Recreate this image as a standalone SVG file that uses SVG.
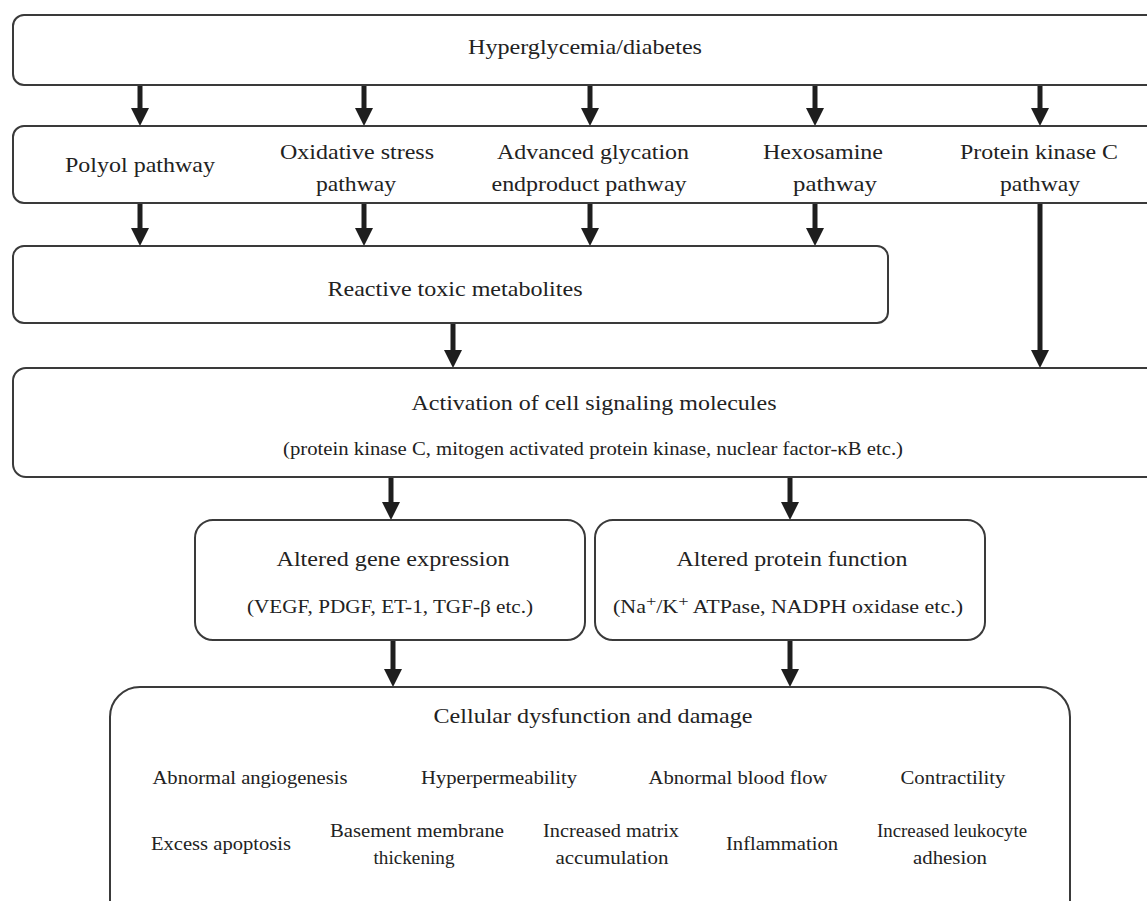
<svg xmlns="http://www.w3.org/2000/svg" width="1147" height="901" viewBox="0 0 1147 901">
<style>
.box{fill:#fff;stroke:#3a3a3a;stroke-width:2}
.t{font-family:"Liberation Serif","Times New Roman",serif;fill:#222;text-anchor:middle}
.l{font-size:22px}
.s{font-size:18px}
.m{font-size:19px}
.c{stroke:#1e1e1e;stroke-width:5;fill:none;marker-end:url(#ah)}
</style>
<defs>
<marker id="ah" markerUnits="userSpaceOnUse" markerWidth="18" markerHeight="18" refX="0" refY="9" orient="auto" viewBox="0 0 18 18">
<path d="M0,0 L18,9 L0,18 Z" fill="#1e1e1e"/>
</marker>
</defs>
<rect width="1147" height="901" fill="#fff"/>

<g id="connectors">
<line class="c" x1="140" y1="86" x2="140" y2="108"/>
<line class="c" x1="364" y1="86" x2="364" y2="108"/>
<line class="c" x1="590" y1="86" x2="590" y2="108"/>
<line class="c" x1="815" y1="86" x2="815" y2="108"/>
<line class="c" x1="1040" y1="86" x2="1040" y2="108"/>
<line class="c" x1="140" y1="204" x2="140" y2="228"/>
<line class="c" x1="364" y1="204" x2="364" y2="228"/>
<line class="c" x1="590" y1="204" x2="590" y2="228"/>
<line class="c" x1="815" y1="204" x2="815" y2="228"/>
<line class="c" x1="453" y1="324" x2="453" y2="350"/>
<line class="c" x1="1040" y1="204" x2="1040" y2="350"/>
<line class="c" x1="391" y1="478" x2="391" y2="502"/>
<line class="c" x1="790" y1="478" x2="790" y2="502"/>
<line class="c" x1="393" y1="641" x2="393" y2="669"/>
<line class="c" x1="790" y1="641" x2="790" y2="669"/>
</g>

<g id="hyperglycemia">
<rect class="box" x="13" y="15" width="1160" height="70" rx="11"/>
<text class="t l" x="585" y="54" textLength="234" lengthAdjust="spacingAndGlyphs">Hyperglycemia/diabetes</text>
</g>

<g id="pathways">
<rect class="box" x="13" y="126" width="1160" height="77" rx="11"/>
<text class="t l" x="140" y="172" textLength="150" lengthAdjust="spacingAndGlyphs">Polyol pathway</text>
<text class="t l" x="357" y="159" textLength="154" lengthAdjust="spacingAndGlyphs">Oxidative stress</text>
<text class="t l" x="356" y="191" textLength="80" lengthAdjust="spacingAndGlyphs">pathway</text>
<text class="t l" x="593" y="159" textLength="192" lengthAdjust="spacingAndGlyphs">Advanced glycation</text>
<text class="t l" x="589" y="191" textLength="195" lengthAdjust="spacingAndGlyphs">endproduct pathway</text>
<text class="t l" x="823" y="159" textLength="120" lengthAdjust="spacingAndGlyphs">Hexosamine</text>
<text class="t l" x="835" y="191" textLength="84" lengthAdjust="spacingAndGlyphs">pathway</text>
<text class="t l" x="1039" y="159" textLength="158" lengthAdjust="spacingAndGlyphs">Protein kinase C</text>
<text class="t l" x="1040" y="191" textLength="80" lengthAdjust="spacingAndGlyphs">pathway</text>
</g>

<g id="reactive">
<rect class="box" x="13" y="246" width="875" height="77" rx="11"/>
<text class="t l" x="455" y="296" textLength="255" lengthAdjust="spacingAndGlyphs">Reactive toxic metabolites</text>
</g>

<g id="activation">
<rect class="box" x="13" y="368" width="1160" height="109" rx="13"/>
<text class="t l" x="594" y="410" textLength="365" lengthAdjust="spacingAndGlyphs">Activation of cell signaling molecules</text>
<text class="t s" x="593" y="455" textLength="620" lengthAdjust="spacingAndGlyphs">(protein kinase C, mitogen activated protein kinase, nuclear factor-κB etc.)</text>
</g>

<g id="gene">
<rect class="box" x="195" y="520" width="390" height="120" rx="18"/>
<text class="t l" x="393" y="566" textLength="233" lengthAdjust="spacingAndGlyphs">Altered gene expression</text>
<text class="t s" x="390" y="613" textLength="286" lengthAdjust="spacingAndGlyphs">(VEGF, PDGF, ET-1, TGF-β etc.)</text>
</g>

<g id="protein">
<rect class="box" x="595" y="520" width="390" height="120" rx="18"/>
<text class="t l" x="792" y="566" textLength="231" lengthAdjust="spacingAndGlyphs">Altered protein function</text>
<text class="t s" x="788" y="613" textLength="350" lengthAdjust="spacingAndGlyphs">(Na<tspan dy="-7" font-size="15">+</tspan><tspan dy="7">/K</tspan><tspan dy="-7" font-size="15">+</tspan><tspan dy="7"> ATPase, NADPH oxidase etc.)</tspan></text>
</g>

<g id="cellular">
<rect class="box" x="110" y="687" width="960" height="260" rx="30"/>
<text class="t l" x="593" y="723" textLength="319" lengthAdjust="spacingAndGlyphs">Cellular dysfunction and damage</text>
<text class="t m" x="250" y="784" textLength="195" lengthAdjust="spacingAndGlyphs">Abnormal angiogenesis</text>
<text class="t m" x="499" y="784" textLength="156" lengthAdjust="spacingAndGlyphs">Hyperpermeability</text>
<text class="t m" x="738" y="784" textLength="179" lengthAdjust="spacingAndGlyphs">Abnormal blood flow</text>
<text class="t m" x="953" y="784" textLength="105" lengthAdjust="spacingAndGlyphs">Contractility</text>
<text class="t m" x="221" y="850" textLength="140" lengthAdjust="spacingAndGlyphs">Excess apoptosis</text>
<text class="t m" x="417" y="837" textLength="174" lengthAdjust="spacingAndGlyphs">Basement membrane</text>
<text class="t m" x="414" y="864" textLength="81" lengthAdjust="spacingAndGlyphs">thickening</text>
<text class="t m" x="611" y="837" textLength="136" lengthAdjust="spacingAndGlyphs">Increased matrix</text>
<text class="t m" x="612" y="864" textLength="113" lengthAdjust="spacingAndGlyphs">accumulation</text>
<text class="t m" x="782" y="850" textLength="112" lengthAdjust="spacingAndGlyphs">Inflammation</text>
<text class="t m" x="952" y="837" textLength="150" lengthAdjust="spacingAndGlyphs">Increased leukocyte</text>
<text class="t m" x="950" y="864" textLength="74" lengthAdjust="spacingAndGlyphs">adhesion</text>
</g>
</svg>
